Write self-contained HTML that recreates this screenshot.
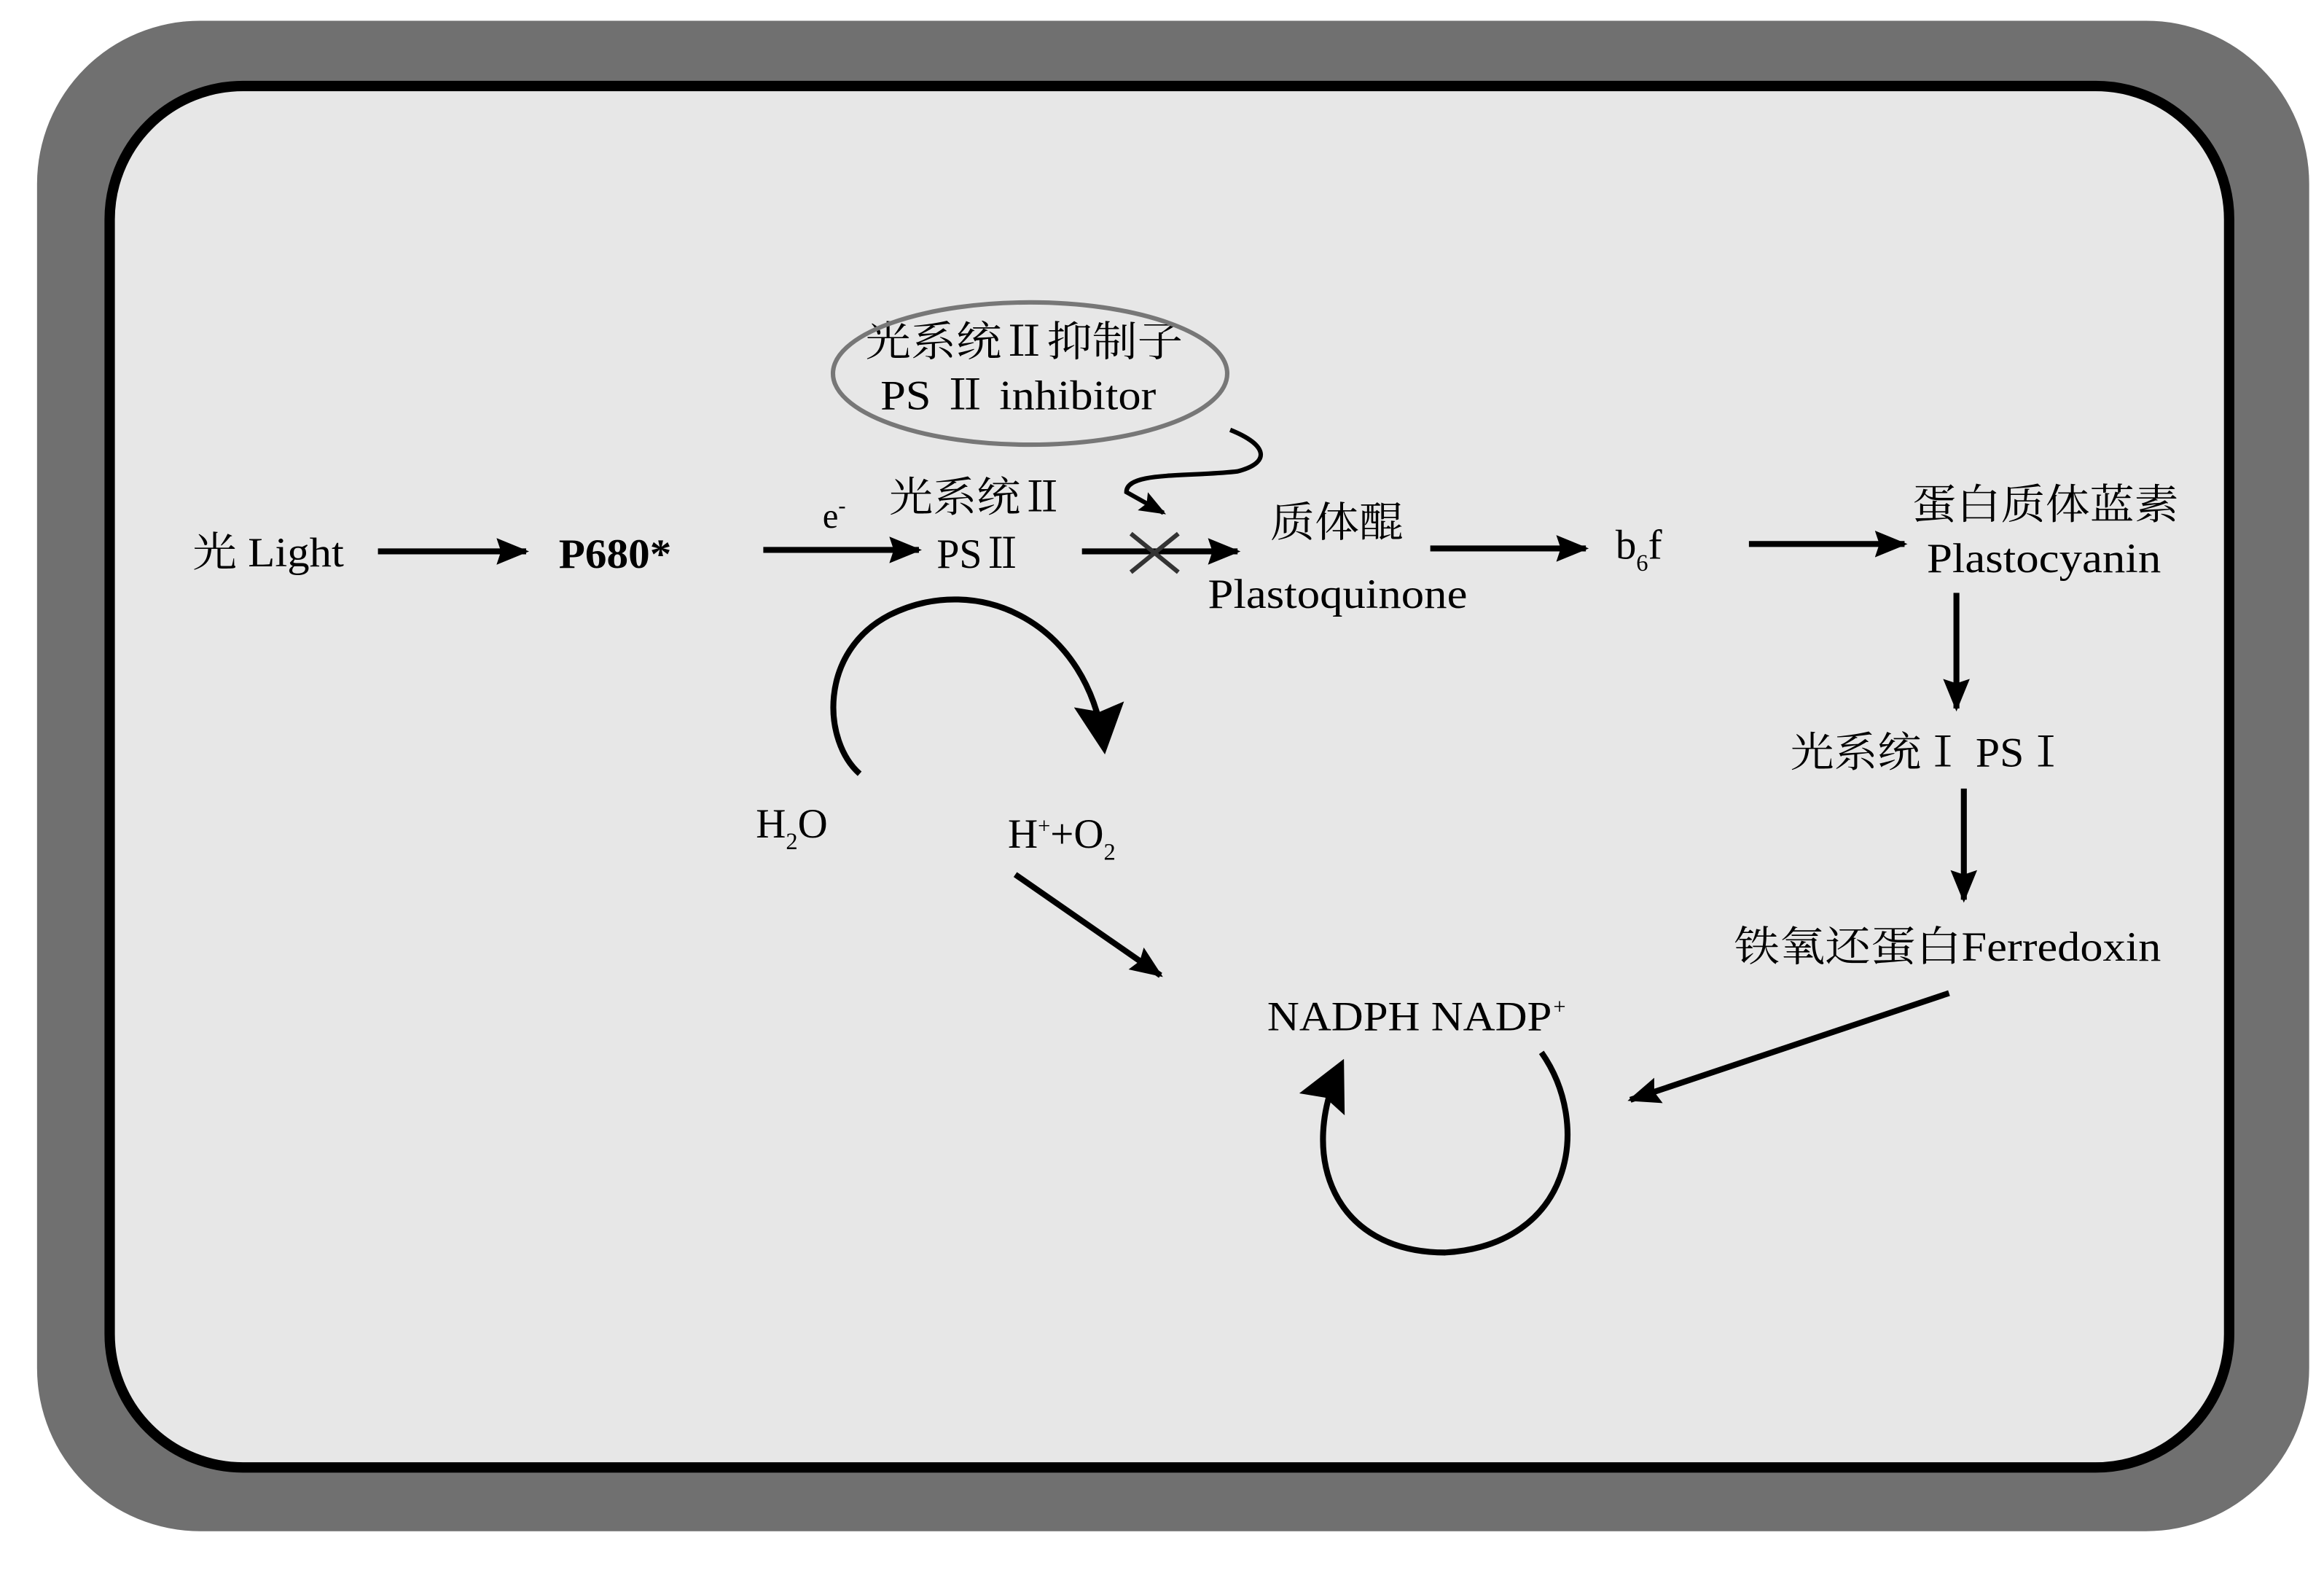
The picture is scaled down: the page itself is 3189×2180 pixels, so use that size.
<!DOCTYPE html>
<html><head><meta charset="utf-8"><style>html,body{margin:0;padding:0;background:#fff}svg{display:block}</style></head>
<body>
<svg width="3189" height="2180" viewBox="0 0 1568 1072" preserveAspectRatio="none" xmlns="http://www.w3.org/2000/svg">
<defs>
<marker id="ah" markerWidth="22" markerHeight="18" refX="20" refY="9" orient="auto" markerUnits="userSpaceOnUse" viewBox="0 0 22 18">
<path d="M0,0 L22,9 L0,18 L3,9 z" fill="#000"/></marker>
<marker id="ahs" markerWidth="18" markerHeight="14" refX="16" refY="7" orient="auto" markerUnits="userSpaceOnUse" viewBox="0 0 18 14">
<path d="M0,0 L18,7 L0,14 L3,7 z" fill="#000"/></marker>
<marker id="ahb" markerWidth="34" markerHeight="34" refX="30" refY="17" orient="auto" markerUnits="userSpaceOnUse" viewBox="0 0 34 34">
<path d="M0,0 L34,17 L0,34 L5,17 z" fill="#000"/></marker>
</defs>
<rect x="0" y="0" width="1568" height="1072" fill="#fff"/>
<rect x="25" y="14" width="1533" height="1019" rx="110" ry="110" fill="#707070"/>
<rect x="74" y="58" width="1430" height="932" rx="90" ry="90" fill="#e7e7e7" stroke="#000" stroke-width="7"/>
<g font-family="'Liberation Serif','Noto Serif CJK SC','Noto Sans CJK SC',serif" font-size="28" fill="#000">
<text x="130" y="382" textLength="102" lengthAdjust="spacingAndGlyphs">光 Light</text>
<text x="377" y="383" textLength="76" lengthAdjust="spacingAndGlyphs" font-weight="bold">P680*</text>
<text x="555" y="356" font-size="24">e<tspan dy="-10" font-size="15">-</tspan></text>
<text x="600" y="345" textLength="118" lengthAdjust="spacingAndGlyphs">光系统Ⅱ</text>
<text x="632" y="383" textLength="58" lengthAdjust="spacingAndGlyphs">PSⅡ</text>
<text x="584" y="240" textLength="214" lengthAdjust="spacingAndGlyphs">光系统Ⅱ抑制子</text>
<text x="594" y="276" textLength="186" lengthAdjust="spacingAndGlyphs">PS Ⅱ inhibitor</text>
<text x="857" y="362" textLength="90" lengthAdjust="spacingAndGlyphs">质体醌</text>
<text x="815" y="410" textLength="175" lengthAdjust="spacingAndGlyphs">Plastoquinone</text>
<text x="1090" y="377">b<tspan dy="8" font-size="16">6</tspan><tspan dy="-8">f</tspan></text>
<text x="1290" y="350" textLength="180" lengthAdjust="spacingAndGlyphs">蛋白质体蓝素</text>
<text x="1300" y="386" textLength="158" lengthAdjust="spacingAndGlyphs">Plastocyanin</text>
<text x="1208" y="517" textLength="187" lengthAdjust="spacingAndGlyphs">光系统Ⅰ PSⅠ</text>
<text x="1170" y="648" textLength="288" lengthAdjust="spacingAndGlyphs">铁氧还蛋白Ferredoxin</text>
<text x="855" y="695" textLength="192" lengthAdjust="spacingAndGlyphs">NADPH NADP</text>
<text x="1048" y="684" font-size="15">+</text>
<text x="510" y="565">H<tspan dy="8" font-size="16">2</tspan><tspan dy="-8">O</tspan></text>
<text x="680" y="572">H<tspan dy="-10" font-size="15">+</tspan><tspan dy="10">+O</tspan><tspan dy="8" font-size="16">2</tspan></text>
</g>
<ellipse cx="695" cy="252" rx="133" ry="48" fill="none" stroke="#777" stroke-width="3"/>
<g stroke="#000" stroke-width="4" fill="none">
<line x1="255" y1="372" x2="355" y2="372" marker-end="url(#ah)"/>
<line x1="515" y1="371" x2="620" y2="371" marker-end="url(#ah)"/>
<line x1="730" y1="372" x2="835" y2="372" marker-end="url(#ah)"/>
<line x1="965" y1="370" x2="1070" y2="370" marker-end="url(#ah)"/>
<line x1="1180" y1="367" x2="1285" y2="367" marker-end="url(#ah)"/>
<line x1="1320" y1="400" x2="1320" y2="478" marker-end="url(#ah)"/>
<line x1="1325" y1="532" x2="1325" y2="607" marker-end="url(#ah)"/>
<line x1="1315" y1="670" x2="1100" y2="742" marker-end="url(#ah)"/>
<line x1="685" y1="590" x2="783" y2="658" marker-end="url(#ah)"/>
<path d="M830,290 C855,300 858,312 835,318 C800,322 760,318 760,332 L785,346" stroke-width="3" marker-end="url(#ahs)"/>
<path d="M580,522 C555,500 552,440 600,415 C660,385 735,420 745,505" stroke-width="4" marker-end="url(#ahb)"/>
<path d="M1040,710 C1075,760 1060,840 975,845 C900,845 875,780 905,718" stroke-width="4" marker-end="url(#ahb)"/>
</g>
<g stroke="#333" stroke-width="3">
<line x1="763" y1="360" x2="795" y2="386"/>
<line x1="763" y1="386" x2="795" y2="360"/>
</g>
</svg>
</body></html>
